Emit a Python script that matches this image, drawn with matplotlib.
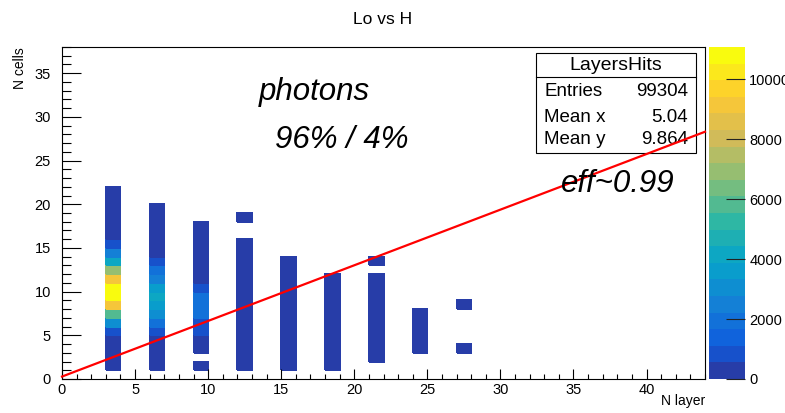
import numpy as np
import matplotlib
matplotlib.use("Agg")
import matplotlib.pyplot as plt
from matplotlib.colors import ListedColormap, BoundaryNorm
from matplotlib.patches import Rectangle
from matplotlib.lines import Line2D
from matplotlib.ticker import MultipleLocator

plt.rcParams['font.family'] = ['Liberation Sans', 'DejaVu Sans']

# ---------------- data ----------------
title = "Lo vs H"
x_title = "N layer"
y_title = "N cells"
stats_name = "LayersHits"
stats_labels = ["Entries", "Mean x", "Mean y"]
stats_values = ["99304", "5.04", "9.864"]

x_range = (0, 44)
y_range = (0, 38)
z_max = 11070
n_levels = 20

# lower edge of the x bin of every column and the lower edge of its first y bin
layer_x = [3, 6, 9, 12, 15, 18, 21, 24, 27]
layer_y0 = [1, 1, 1, 1, 1, 1, 2, 3, 3]
counts_x3 = [60, 150, 250, 400, 800, 2900, 5700, 9000, 10600, 11000, 8950,
             6800, 4000, 2400, 850, 380, 220, 120, 60, 25, 10]
counts_x6 = [80, 180, 300, 480, 850, 1900, 3000, 3600, 4100, 3600, 2500,
             1900, 900, 450, 300, 180, 100, 50, 20]
counts_x9 = [40, 0, 300, 500, 1000, 1050, 1750, 1800, 1750, 950, 520, 420,
             330, 240, 150, 80, 30]
counts_x12 = [30, 60, 110, 160, 150, 120, 90, 70, 50, 35, 25, 15, 10, 6, 3,
              0, 0, 2]
counts_x15 = [15, 30, 50, 70, 60, 45, 35, 25, 15, 10, 6, 3, 2]
counts_x18 = [8, 15, 25, 30, 25, 18, 12, 8, 5, 3, 2]
counts_x21 = [6, 10, 14, 12, 10, 7, 5, 3, 2, 1, 0, 1]
counts_x24 = [3, 5, 4, 3, 1]
counts_x27 = [1, 0, 0, 0, 0, 1]
layer_counts = [counts_x3, counts_x6, counts_x9, counts_x12, counts_x15,
                counts_x18, counts_x21, counts_x24, counts_x27]

fit_x = [0, 44]
fit_y = [0.28, 28.3]

# ---------------- ROOT kBird palette ----------------
bird_stops = [0.0, 0.125, 0.25, 0.375, 0.5, 0.625, 0.75, 0.875, 1.0]
bird_r = [0.2082, 0.0592, 0.0780, 0.0232, 0.1802, 0.5301, 0.8186, 0.9956, 0.9764]
bird_g = [0.1664, 0.3599, 0.5041, 0.6419, 0.7178, 0.7492, 0.7328, 0.7862, 0.9832]
bird_b = [0.5293, 0.8684, 0.8385, 0.7914, 0.6425, 0.4662, 0.3499, 0.1968, 0.0539]
ncol = 255
level_colors = []
for i in range(n_levels):
    idx = int((i + 0.99) * ncol / n_levels)
    t = idx / (ncol - 1)
    level_colors.append((np.interp(t, bird_stops, bird_r),
                         np.interp(t, bird_stops, bird_g),
                         np.interp(t, bird_stops, bird_b)))
cmap = ListedColormap(level_colors)
bounds = np.linspace(0, z_max, n_levels + 1)
norm = BoundaryNorm(bounds, n_levels)

# ---------------- histogram ----------------
xedges = np.arange(x_range[0], x_range[1] + 1)
yedges = np.arange(y_range[0], y_range[1] + 1)
H = np.zeros((len(yedges) - 1, len(xedges) - 1))
for xl, y0, cnt in zip(layer_x, layer_y0, layer_counts):
    for k, c in enumerate(cnt):
        H[y0 + k, xl] = c
Hm = np.ma.masked_less_equal(H, 0)

W, Hpx = 785, 413
fig = plt.figure(figsize=(W / 100, Hpx / 100), dpi=100)

def fx(px):
    return px / W

def fy(py):
    return (Hpx - py) / Hpx

ax = fig.add_axes([fx(62), fy(379), fx(705) - fx(62), fy(47) - fy(379)])
ax.pcolormesh(xedges, yedges, Hm, cmap=cmap, norm=norm, edgecolors='face',
              linewidth=0.3, antialiased=False)
ax.set_xlim(*x_range)
ax.set_ylim(*y_range)

ax.xaxis.set_major_locator(MultipleLocator(5))
ax.xaxis.set_minor_locator(MultipleLocator(1))
ax.yaxis.set_major_locator(MultipleLocator(5))
ax.yaxis.set_minor_locator(MultipleLocator(1))
ax.tick_params(axis='x', which='major', direction='in', length=7.5, width=0.8,
               labelsize=10.5, pad=3, top=False)
ax.tick_params(axis='x', which='minor', direction='in', length=3.8, width=0.8, top=False)
ax.tick_params(axis='y', which='major', direction='in', length=13.5, width=0.8,
               labelsize=10.5, pad=8, right=False)
ax.tick_params(axis='y', which='minor', direction='in', length=6.8, width=0.8, right=False)
for s in ax.spines.values():
    s.set_linewidth(0.8)

fig.text(fx(705), fy(401), x_title, ha='right', va='center', fontsize=10)
fig.text(fx(20), fy(47), y_title, ha='center', va='top', rotation=90, fontsize=10)
fig.text(fx(383), fy(20), title, ha='center', va='center', fontsize=12.5)

# colorbar
cax = fig.add_axes([fx(709), fy(379), fx(745) - fx(709), fy(47) - fy(379)])
sm = matplotlib.cm.ScalarMappable(norm=norm, cmap=cmap)
cb = fig.colorbar(sm, cax=cax, ticks=np.arange(0, 10001, 2000))
cb.outline.set_visible(False)
cb.ax.minorticks_off()
cax.tick_params(direction='in', length=13.5, width=0.8, labelsize=10.5, pad=3,
                color='#222222')
cax.yaxis.set_ticks_position('right')

# stats box
fig.patches.append(Rectangle((fx(536), fy(153)), fx(696) - fx(536), fy(53) - fy(153),
                             transform=fig.transFigure, facecolor='white',
                             edgecolor='black', lw=0.8, zorder=10))
fig.lines.append(Line2D([fx(536), fx(696)], [fy(77), fy(77)], transform=fig.transFigure,
                        color='black', lw=0.8, zorder=11))
fig.text(fx(616), fy(65), stats_name, ha='center', va='center', fontsize=14, zorder=12)
for i, (lab, val) in enumerate(zip(stats_labels, stats_values)):
    yy = [92, 117, 140][i]
    fig.text(fx(544), fy(yy), lab, ha='left', va='center', fontsize=13.5, zorder=12)
    fig.text(fx(688), fy(yy), val, ha='right', va='center', fontsize=13.5, zorder=12)

# fit line drawn on top of the stats box, as in the reference
fig.lines.append(Line2D(fit_x, fit_y, transform=ax.transData, color='#ff0000',
                        lw=1.6, zorder=13))

# annotations
fig.text(fx(259), fy(100), "photons", ha='left', va='baseline', fontsize=22.5,
         style='italic', zorder=14)
fig.text(fx(275), fy(148), "96% / 4%", ha='left', va='baseline', fontsize=22.5,
         style='italic', zorder=14)
fig.text(fx(561), fy(192), "eff~0.99", ha='left', va='baseline', fontsize=22.5,
         style='italic', zorder=14)

fig.savefig("out.png", dpi=100)
